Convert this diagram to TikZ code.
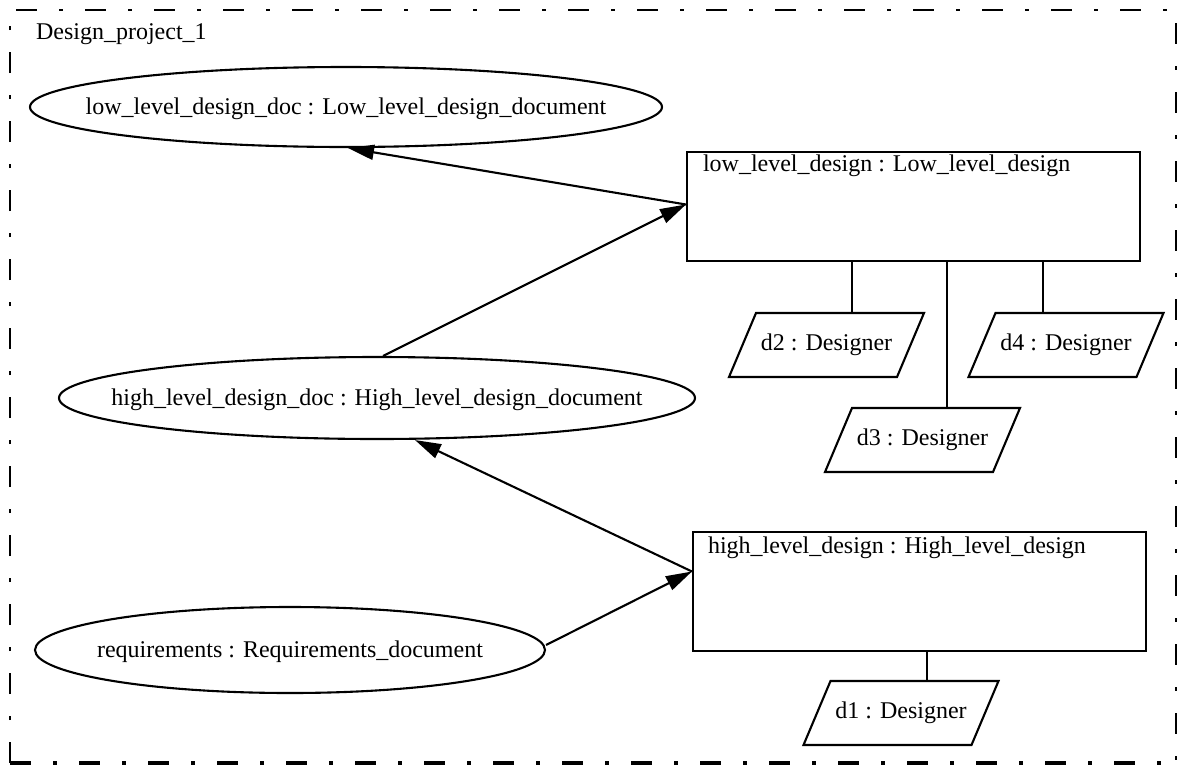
\documentclass[tikz,border=0pt]{standalone}
\usepackage{fontspec}
\setmainfont{Liberation Serif}
\usetikzlibrary{shapes.geometric,arrows.meta}

\begin{document}
\begin{tikzpicture}[x=1pt, y=-1pt, line width=2.1pt,
  font=\fontsize{24}{28}\selectfont,
  doc/.style={ellipse, draw, inner sep=0pt},
  doctext/.style={yshift=-2pt},
  proc/.style={rectangle, draw, inner sep=0pt},
  actor/.style={rectangle, minimum width=195pt, minimum height=64pt, inner sep=0pt, outer sep=0pt},
  flow/.style={-{Triangle[length=26pt,width=15pt]}},
  frame/.style={line width=2.2pt, dash pattern=on 21pt off 22pt on 4pt off 22pt},
  caption/.style={anchor=base west, inner sep=0pt}]
\useasboundingbox (0,0) rectangle (1179,769);

% package frame
\draw[frame] (10,763) -- (10,10) -- (1176,10) -- (1176,763);
\draw[frame, line width=3.5pt] (10,763) -- (1176,763);
\node[caption] (title) at (35,39) {Design\_project\_1};

% documents (text set as a centred label so the outline keeps its own size)
\node[doc, minimum width=632pt, minimum height=80pt,
  label={[doctext]center:low\_level\_design\_doc : Low\_level\_design\_document}] (lld) at (346,107) {};
\node[doc, minimum width=636pt, minimum height=82pt,
  label={[doctext]center:high\_level\_design\_doc : High\_level\_design\_document}] (hld) at (377,398) {};
\node[doc, minimum width=510pt, minimum height=86pt,
  label={[doctext]center:requirements : Requirements\_document}] (req) at (290,650) {};

% processes
\node[proc, minimum width=453pt, minimum height=109pt,
  label={[caption, xshift=16pt, yshift=-21pt]north west:low\_level\_design : Low\_level\_design}]
  (ll) at (913.5,206.5) {};
\node[proc, minimum width=453pt, minimum height=119pt,
  label={[caption, xshift=15pt, yshift=-23pt]north west:high\_level\_design : High\_level\_design}]
  (hl) at (919.5,591.5) {};

% designers
\node[actor] (d2) at (826.5,345) {d2 : Designer};
\node[actor] (d4) at (1066,345) {d4 : Designer};
\node[actor] (d3) at (922.5,440) {d3 : Designer};
\node[actor] (d1) at (901,713) {d1 : Designer};
\foreach \n in {d1,d2,d3,d4}
  \draw[line join=miter] ([xshift=27pt]\n.north west) -- (\n.north east)
    -- ([xshift=-27pt]\n.south east) -- (\n.south west) -- cycle;

% designer links
\draw ([xshift=25.5pt]d2.north) -- ([xshift=25.5pt]d2.north |- ll.south);
\draw ([xshift=24.5pt]d3.north) -- ([xshift=24.5pt]d3.north |- ll.south);
\draw ([xshift=-23pt]d4.north) -- ([xshift=-23pt]d4.north |- ll.south);
\draw ([xshift=26pt]d1.north) -- ([xshift=26pt]d1.north |- hl.south);

% data flow
\draw[flow] ([yshift=5pt]req.east) -- ([yshift=20pt]hl.west);
\draw[flow] ([yshift=20pt]hl.west) -- ([xshift=38pt]hld.south);
\draw[flow] ([xshift=6pt]hld.north) -- ([yshift=2pt]ll.west);
\draw[flow] ([yshift=2pt]ll.west) -- ([xshift=2pt]lld.south);
\end{tikzpicture}
\end{document}
